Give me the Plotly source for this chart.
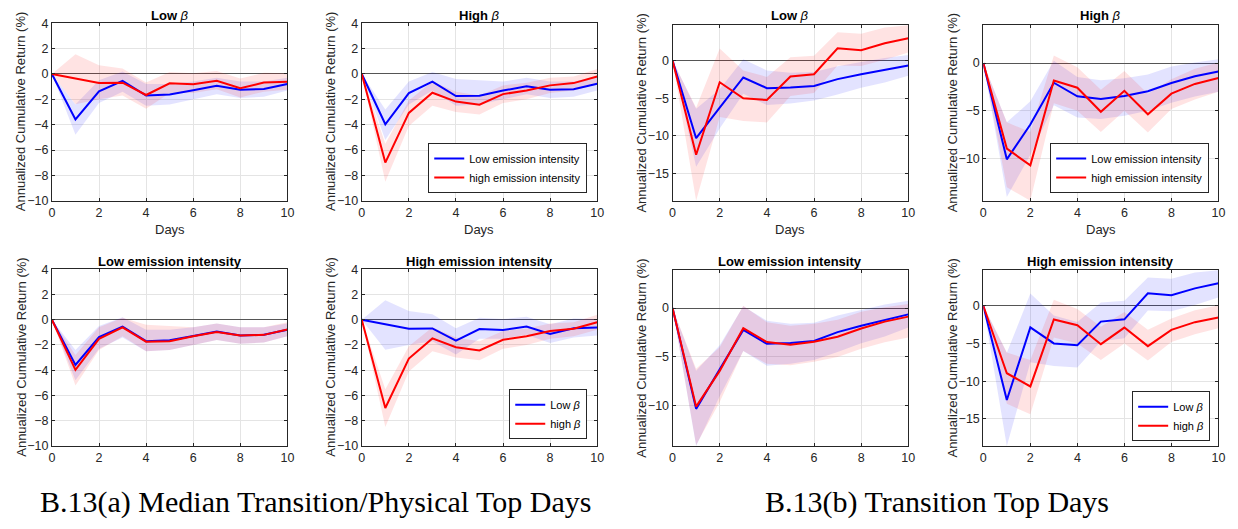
import plotly.graph_objects as go

W, H = 1238, 529

days = list(range(11))

# (a) Median transition/physical top days
a_lowb_lowe = [0, -3.58, -1.37, -0.55, -1.70, -1.62, -1.29, -0.93, -1.25, -1.19, -0.79]
a_lowb_lowe_lo = [0, -4.8, -2.3, -1.4, -2.5, -2.4, -2.0, -1.6, -1.9, -1.8, -1.3]
a_lowb_lowe_hi = [0, -2.4, -0.5, 0.2, -0.8, -0.8, -0.6, -0.3, -0.6, -0.6, -0.3]

a_highb_lowe = [0, -3.97, -1.51, -0.61, -1.74, -1.71, -1.31, -0.97, -1.25, -1.20, -0.77]
a_highb_lowe_lo = [0, -5.2, -2.4, -1.3, -2.5, -2.4, -2.0, -1.6, -1.9, -1.8, -1.3]
a_highb_lowe_hi = [0, -2.8, -0.6, 0.15, -0.4, -0.5, -0.6, -0.3, -0.6, -0.6, -0.2]

a_lowb_highe = [0, -0.38, -0.72, -0.69, -1.66, -0.74, -0.82, -0.54, -1.12, -0.68, -0.61]
a_lowb_highe_lo = [0, -2.38, -2.0, -1.7, -2.75, -1.5, -1.5, -1.2, -1.85, -1.4, -1.25]
a_lowb_highe_hi = [0, 1.55, 0.68, 0.44, -0.68, 0.16, 0.05, 0.23, -0.36, 0.1, 0.05]

a_highb_highe = [0, -6.99, -3.07, -1.48, -2.18, -2.43, -1.59, -1.31, -0.90, -0.72, -0.20]
a_highb_highe_lo = [0, -8.5, -4.1, -2.5, -3.0, -3.2, -2.3, -2.0, -1.5, -1.3, -0.8]
a_highb_highe_hi = [0, -5.5, -2.1, -0.6, -1.4, -1.7, -0.9, -0.7, -0.3, -0.2, 0.4]

# (b) Transition top days
b_lowb_lowe = [0, -10.3, -6.25, -2.24, -3.66, -3.58, -3.36, -2.46, -1.81, -1.21, -0.65]
b_lowb_lowe_lo = [0, -14.1, -9.0, -4.4, -5.9, -5.7, -5.3, -4.5, -3.6, -2.9, -2.0]
b_lowb_lowe_hi = [0, -6.4, -3.8, 0.17, -1.3, -1.6, -1.5, -0.76, -0.2, 0.35, 0.75]

b_highb_lowe = [0, -10.07, -6.42, -2.06, -3.48, -3.75, -3.45, -2.94, -2.09, -1.39, -0.88]
b_highb_lowe_lo = [0, -14.0, -9.6, -4.4, -5.7, -5.85, -5.5, -5.0, -4.15, -3.5, -3.0]
b_highb_lowe_hi = [0, -6.2, -4.0, 0.24, -1.45, -1.8, -1.6, -1.2, -0.37, 0.07, 0.4]

b_lowb_highe = [0, -12.5, -2.87, -5.0, -5.23, -2.11, -1.81, 1.64, 1.38, 2.30, 2.98]
b_lowb_highe_lo = [0, -18.6, -7.5, -8.0, -8.2, -4.7, -4.3, -0.65, -0.73, 0.1, 1.08]
b_lowb_highe_hi = [0, -6.25, 1.6, -1.3, -2.16, 0.43, 0.65, 3.75, 3.58, 4.4, 4.7]

b_highb_highe = [0, -8.95, -10.7, -1.83, -2.58, -5.1, -2.9, -5.36, -3.2, -2.18, -1.57]
b_highb_highe_lo = [0, -13.0, -14.4, -4.2, -5.0, -7.2, -5.0, -7.26, -4.8, -3.8, -3.0]
b_highb_highe_hi = [0, -6.2, -7.2, 0.8, -0.44, -2.8, -0.84, -3.2, -1.7, -0.6, 0.05]

x_ticks = [0, 2, 4, 6, 8, 10]
y_label = "Annualized Cumulative Return (%)"
emis_names = ["Low emission intensity", "high emission intensity"]
beta_names = ["Low <i>β</i>", "high <i>β</i>"]
captions = ["B.13(a) Median Transition/Physical Top Days", "B.13(b) Transition Top Days"]

BLUE = "rgb(0,0,255)"
RED = "rgb(255,0,0)"
BLUE_BAND = "rgba(0,0,255,0.11)"
RED_BAND = "rgba(255,0,0,0.11)"
AX = "#262626"
SANS = "Liberation Sans, Arial, Helvetica, sans-serif"

# panel geometry in pixels: left, right, top, bottom
panels = [
    dict(box=(49.3, 286.7, 16.7, 199), title="<b>Low </b><i>β</i>",
         blue=(a_lowb_lowe, a_lowb_lowe_lo, a_lowb_lowe_hi),
         red=(a_lowb_highe, a_lowb_highe_lo, a_lowb_highe_hi),
         yr=(-10, 4), dt=2, names=emis_names, legend=None, xlab=True),
    dict(box=(361.7, 599, 16.7, 199), title="<b>High </b><i>β</i>",
         blue=(a_highb_lowe, a_highb_lowe_lo, a_highb_lowe_hi),
         red=(a_highb_highe, a_highb_highe_lo, a_highb_highe_hi),
         yr=(-10, 4), dt=2, names=emis_names, legend="legend", xlab=True,
         lpos=(589, 191)),
    dict(box=(675, 912.7, 18.3, 199), title="<b>Low </b><i>β</i>",
         blue=(b_lowb_lowe, b_lowb_lowe_lo, b_lowb_lowe_hi),
         red=(b_lowb_highe, b_lowb_highe_lo, b_lowb_highe_hi),
         yr=(-18.6, 4.75), dt=5, names=emis_names, legend=None, xlab=True),
    dict(box=(988.3, 1225.3, 18.3, 199), title="<b>High </b><i>β</i>",
         blue=(b_highb_lowe, b_highb_lowe_lo, b_highb_lowe_hi),
         red=(b_highb_highe, b_highb_highe_lo, b_highb_highe_hi),
         yr=(-14.4, 4.0), dt=5, names=emis_names, legend="legend2", xlab=True,
         lpos=(1216, 191)),
    dict(box=(49.3, 286.7, 269.3, 451), title="<b>Low emission intensity</b>",
         blue=(a_lowb_lowe, a_lowb_lowe_lo, a_lowb_lowe_hi),
         red=(a_highb_lowe, a_highb_lowe_lo, a_highb_lowe_hi),
         yr=(-10, 4), dt=2, names=beta_names, legend=None, xlab=False),
    dict(box=(361.7, 599, 269.3, 451), title="<b>High emission intensity</b>",
         blue=(a_lowb_highe, a_lowb_highe_lo, a_lowb_highe_hi),
         red=(a_highb_highe, a_highb_highe_lo, a_highb_highe_hi),
         yr=(-10, 4), dt=2, names=beta_names, legend="legend3", xlab=False,
         lpos=(589, 444)),
    dict(box=(675, 912.7, 270, 451), title="<b>Low emission intensity</b>",
         blue=(b_lowb_lowe, b_lowb_lowe_lo, b_lowb_lowe_hi),
         red=(b_highb_lowe, b_highb_lowe_lo, b_highb_lowe_hi),
         yr=(-14.1, 3.9), dt=5, names=beta_names, legend=None, xlab=False),
    dict(box=(988.3, 1225.3, 270, 451), title="<b>High emission intensity</b>",
         blue=(b_lowb_highe, b_lowb_highe_lo, b_lowb_highe_hi),
         red=(b_highb_highe, b_highb_highe_lo, b_highb_highe_hi),
         yr=(-18.6, 4.75), dt=5, names=beta_names, legend="legend4", xlab=False,
         lpos=(1217, 446)),
]

fig = go.Figure()
layout = dict(
    width=W, height=H, margin=dict(l=0, r=0, t=0, b=0),
    paper_bgcolor="white", plot_bgcolor="white",
    font=dict(family=SANS, color=AX),
    showlegend=True,
)
annotations = []

for i, p in enumerate(panels):
    n = "" if i == 0 else str(i + 1)
    xa, ya = "x" + n, "y" + n
    l, r, t, b = p["box"]
    layout["xaxis" + n] = dict(
        domain=[l / W, r / W], anchor=ya, range=[0, 10], tickvals=x_ticks,
        showgrid=True, gridcolor="#e4e4e4", gridwidth=1, zeroline=False,
        showline=True, linecolor=AX, linewidth=1, mirror="ticks",
        ticks="inside", ticklen=3, tickcolor=AX,
        tickfont=dict(size=12.5, color=AX, family=SANS), fixedrange=True,
    )
    lo_y, hi_y = p["yr"]
    first = -(int(-lo_y) // p["dt"]) * p["dt"]
    yt = list(range(int(first), int(hi_y) + 1, p["dt"]))
    layout["yaxis" + n] = dict(
        domain=[1 - b / H, 1 - t / H], anchor=xa, range=[lo_y, hi_y], tickvals=yt,
        showgrid=True, gridcolor="#e4e4e4", gridwidth=1,
        zeroline=True, zerolinecolor="#555555", zerolinewidth=1,
        showline=True, linecolor=AX, linewidth=1, mirror="ticks",
        ticks="inside", ticklen=3, tickcolor=AX,
        tickfont=dict(size=12.5, color=AX, family=SANS), fixedrange=True,
    )

    # confidence bands
    for (mean, lo, hi), band in ((p["blue"], BLUE_BAND), (p["red"], RED_BAND)):
        fig.add_trace(go.Scatter(
            x=days + days[::-1], y=hi + lo[::-1], fill="toself", fillcolor=band,
            line=dict(width=0), mode="lines", hoverinfo="skip", showlegend=False,
            xaxis=xa, yaxis=ya,
        ))
    # mean paths
    for (mean, lo, hi), col, name in ((p["blue"], BLUE, p["names"][0]),
                                      (p["red"], RED, p["names"][1])):
        fig.add_trace(go.Scatter(
            x=days, y=mean, mode="lines", line=dict(color=col, width=2),
            name=name, showlegend=p["legend"] is not None,
            legend=p["legend"] or "legend", xaxis=xa, yaxis=ya,
        ))

    if p["legend"]:
        lx, ly = p["lpos"]
        layout[p["legend"]] = dict(
            x=lx / W, xanchor="right", y=1 - ly / H, yanchor="bottom",
            bgcolor="white", bordercolor=AX, borderwidth=1,
            font=dict(size=11, color="#000000", family=SANS),
            tracegroupgap=0, itemwidth=30,
        )

    # panel title
    ty = 8.5 if t < 100 else 261.5
    annotations.append(dict(
        text=p["title"], x=(l + r) / 2 / W, y=1 - ty / H, xref="paper", yref="paper",
        xanchor="center", yanchor="middle", showarrow=False,
        font=dict(size=13, color="#000000", family=SANS),
    ))
    # y-axis label
    annotations.append(dict(
        text=y_label, x=(l - 31) / W, y=1 - (t + b) / 2 / H, xref="paper", yref="paper",
        xanchor="center", yanchor="middle", showarrow=False, textangle=-90,
        font=dict(size=13, color=AX, family=SANS),
    ))
    if p["xlab"]:
        annotations.append(dict(
            text="Days", x=(l + r) / 2 / W, y=1 - 229 / H, xref="paper", yref="paper",
            xanchor="center", yanchor="middle", showarrow=False,
            font=dict(size=13, color=AX, family=SANS),
        ))

for cap, cx in zip(captions, (316, 942)):
    annotations.append(dict(
        text=cap, x=cx / W, y=1 - 508 / H, xref="paper", yref="paper",
        xanchor="center", yanchor="middle", showarrow=False,
        font=dict(size=30, color="#000000", family="Liberation Serif, Times New Roman, serif"),
    ))

layout["annotations"] = annotations
fig.update_layout(**layout)
fig.write_html("out.html")
